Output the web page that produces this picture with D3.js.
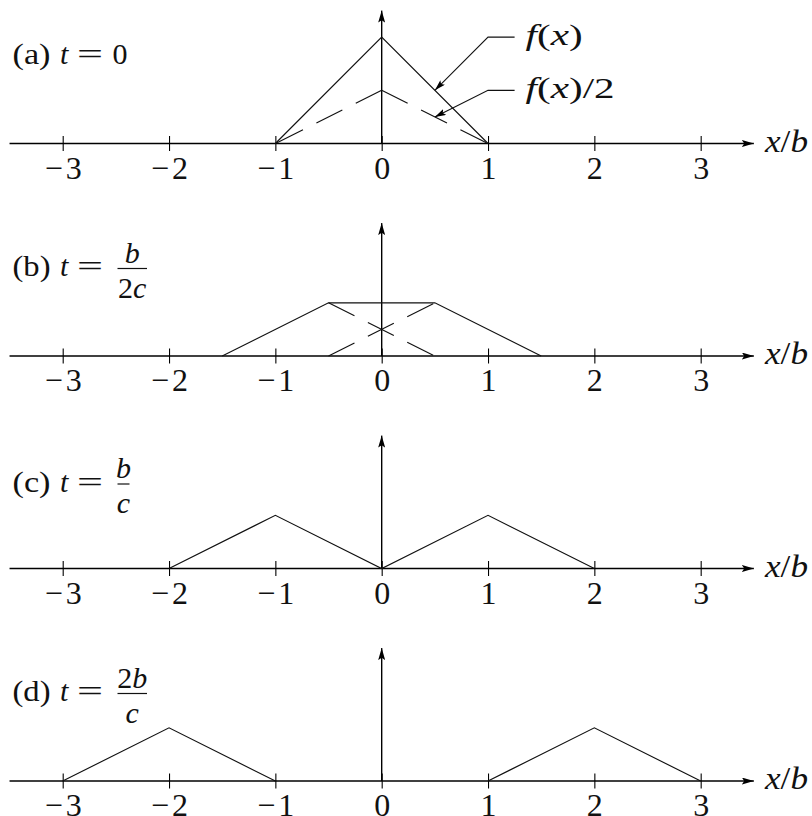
<!DOCTYPE html>
<html>
<head>
<meta charset="utf-8">
<script src="https://cdn.jsdelivr.net/npm/d3@7"></script>
<style>
  body { margin: 0; background: #fff; }
  svg { display: block; }
  text { font-family: "Liberation Serif", "Times New Roman", serif; fill: #111; }
</style>
</head>
<body>
<svg id="chart" width="812" height="816"></svg>
<script>
// ---- data -------------------------------------------------------------
const tickValues = [-3, -2, -1, 0, 1, 2, 3];
const tickLabels = ["\u22123", "\u22122", "\u22121", "0", "1", "2", "3"];
const panelIds = ["(a)", "(b)", "(c)", "(d)"];
// t for each snapshot: [numerator, denominator] (denominator null = plain value)
const panelTimes = [["0", null], ["b", "2c"], ["b", "c"], ["2b", "c"]];

// wave profiles (x/b, height); each panel is a list of polylines
const solidA = [[[-1, 0], [0, 1], [1, 0]]];
const dashedA = [[[0, 0.5], [-1, 0]], [[0, 0.5], [1, 0]]];
const solidB = [[[-1.5, 0], [-0.5, 0.5], [0.5, 0.5], [1.5, 0]]];
const dashedB = [[[-0.5, 0.5], [0.5, 0]], [[-0.5, 0], [0.5, 0.5]]];
const solidC = [[[-2, 0], [-1, 0.5], [0, 0], [1, 0.5], [2, 0]]];
const solidD = [[[-3, 0], [-2, 0.5], [-1, 0]], [[1, 0], [2, 0.5], [3, 0]]];

const solidProfiles = [solidA, solidB, solidC, solidD];
const dashedProfiles = [dashedA, dashedB, [], []];

// annotation leaders in panel (a): label anchor -> elbow -> arrow tip
const leaderF = [[1.25, 1], [1, 1], [0.5, 0.5]];
const leaderHalf = [[1.25, 0.5], [1, 0.5], [0.5, 0.25]];

// ---- layout -----------------------------------------------------------
const svg = d3.select("#chart");
const unit = 106.33;
const x = d3.scaleLinear().domain([-3, 3]).range([62.7, 62.7 + 6 * unit]);
const axisExtent = [-3.5, 3.5];
const yTop = 1.25;
const firstAxisY = 143.5;
const panelStep = 212.5;
const labelBaseline = [-80, -80, -77, -80];

const defs = svg.append("defs");
function arrowMarker(id, len, wid) {
  defs.append("marker")
    .attr("id", id)
    .attr("markerUnits", "userSpaceOnUse")
    .attr("markerWidth", len).attr("markerHeight", wid)
    .attr("refX", len).attr("refY", wid / 2)
    .attr("orient", "auto")
    .append("path")
    .attr("d", `M0,0 L${len},${wid / 2} L0,${wid} L${len * 0.2},${wid / 2} Z`)
    .attr("fill", "#000");
}
arrowMarker("axisArrow", 12, 7);
arrowMarker("leadArrow", 11, 6.5);

const line = d3.line();

// italic for Latin letters, upright for digits and punctuation
function mathSpans(t, s) {
  s.split("").forEach(ch => {
    t.append("tspan")
      .attr("font-style", /[a-z]/.test(ch) ? "italic" : "normal")
      .text(ch);
  });
  return t;
}

panelIds.forEach((pid, i) => {
  const axisY = firstAxisY + i * panelStep;
  const y = d3.scaleLinear().domain([0, 1]).range([axisY, axisY - unit]);
  const g = svg.append("g");

  // horizontal axis with arrow
  g.append("line")
    .attr("x1", x(axisExtent[0])).attr("x2", x(axisExtent[1]))
    .attr("y1", y(0)).attr("y2", y(0))
    .attr("stroke", "#000").attr("stroke-width", 1.6)
    .attr("marker-end", "url(#axisArrow)");

  // vertical axis with arrow
  g.append("line")
    .attr("x1", x(0)).attr("x2", x(0))
    .attr("y1", y(0)).attr("y2", y(yTop))
    .attr("stroke", "#000").attr("stroke-width", 1.4)
    .attr("marker-end", "url(#axisArrow)");

  // ticks and labels
  const ax = d3.axisBottom(x)
    .tickValues(tickValues)
    .tickFormat((d, k) => tickLabels[k])
    .tickSizeInner(7.5).tickSizeOuter(0);
  const axG = g.append("g").attr("transform", `translate(0,${y(0)})`).call(ax);
  axG.select(".domain").remove();
  axG.selectAll(".tick line").attr("y1", -7.5).attr("y2", 7.5)
    .attr("stroke", "#000").attr("stroke-width", 1.1);
  axG.selectAll(".tick text")
    .attr("y", 35).attr("dy", null)
    .attr("font-size", 32).attr("fill", "#111")
    .each(function (d) {
      if (d < 0) d3.select(this).attr("textLength", 37).attr("lengthAdjust", "spacing");
    });

  // x/b axis label
  const xl = g.append("text")
    .attr("x", 765).attr("y", y(0) + 8)
    .attr("font-size", 31)
    .attr("textLength", 43).attr("lengthAdjust", "spacingAndGlyphs");
  xl.append("tspan").attr("font-style", "italic").text("x");
  xl.append("tspan").text("/");
  xl.append("tspan").attr("font-style", "italic").text("b");

  // solid profile
  g.selectAll("path.solid").data(solidProfiles[i]).join("path")
    .attr("class", "solid")
    .attr("d", pts => line(pts.map(p => [x(p[0]), y(p[1])])))
    .attr("fill", "none").attr("stroke", "#111")
    .attr("stroke-width", 1.15).attr("stroke-linejoin", "miter");

  // dashed half-amplitude components
  g.selectAll("path.dashed").data(dashedProfiles[i]).join("path")
    .attr("class", "dashed")
    .attr("d", pts => line(pts.map(p => [x(p[0]), y(p[1])])))
    .attr("fill", "none").attr("stroke", "#111")
    .attr("stroke-width", 1.15).attr("stroke-dasharray", "29,15");

  // panel caption: (a) t = ...
  const base = y(0) + labelBaseline[i];
  const mathAxis = base - 7.5;
  g.append("text").attr("x", 12.5).attr("y", base).attr("font-size", 30)
    .attr("textLength", 38).attr("lengthAdjust", "spacingAndGlyphs").text(pid);
  g.append("text").attr("x", 60).attr("y", base).attr("font-size", 30)
    .attr("font-style", "italic").text("t");
  g.append("text").attr("x", 77).attr("y", base).attr("font-size", 30)
    .attr("textLength", 26).attr("lengthAdjust", "spacingAndGlyphs").text("=");

  const [num, den] = panelTimes[i];
  if (den === null) {
    g.append("text").attr("x", 112.5).attr("y", base).attr("font-size", 30).text(num);
  } else {
    const narrow = num.length === 1 && den.length === 1;
    const x0 = 117.5, x1 = narrow ? 129.5 : 147;
    const cx = (x0 + x1) / 2;
    g.append("line").attr("x1", x0).attr("x2", x1)
      .attr("y1", mathAxis).attr("y2", mathAxis)
      .attr("stroke", "#111").attr("stroke-width", 1.2);
    mathSpans(g.append("text").attr("x", cx).attr("y", mathAxis - 6)
      .attr("font-size", 30).attr("text-anchor", "middle"), num);
    mathSpans(g.append("text").attr("x", cx).attr("y", mathAxis + 29)
      .attr("font-size", 30).attr("text-anchor", "middle"), den);
  }

  if (i === 0) {
    // leader arrows to f(x) and f(x)/2
    [leaderF, leaderHalf].forEach(pts => {
      g.append("path")
        .attr("d", line(pts.map(p => [x(p[0]), y(p[1])])))
        .attr("fill", "none").attr("stroke", "#111").attr("stroke-width", 1.1)
        .attr("marker-end", "url(#leadArrow)");
    });
    const fl = (txt, yy, w) => {
      const t = g.append("text").attr("x", x(leaderF[0][0]) + 11).attr("y", yy)
        .attr("font-size", 30)
        .attr("textLength", w).attr("lengthAdjust", "spacingAndGlyphs");
      txt.forEach(([s, it]) => t.append("tspan")
        .attr("font-style", it ? "italic" : "normal").text(s));
      return t;
    };
    fl([["f", true], ["(", false], ["x", true], [")", false]], y(leaderF[0][1]) + 8, 57);
    fl([["f", true], ["(", false], ["x", true], [")", false], ["/2", false]], y(leaderHalf[0][1]) + 8, 89);
  }
});
</script>
</body>
</html>
